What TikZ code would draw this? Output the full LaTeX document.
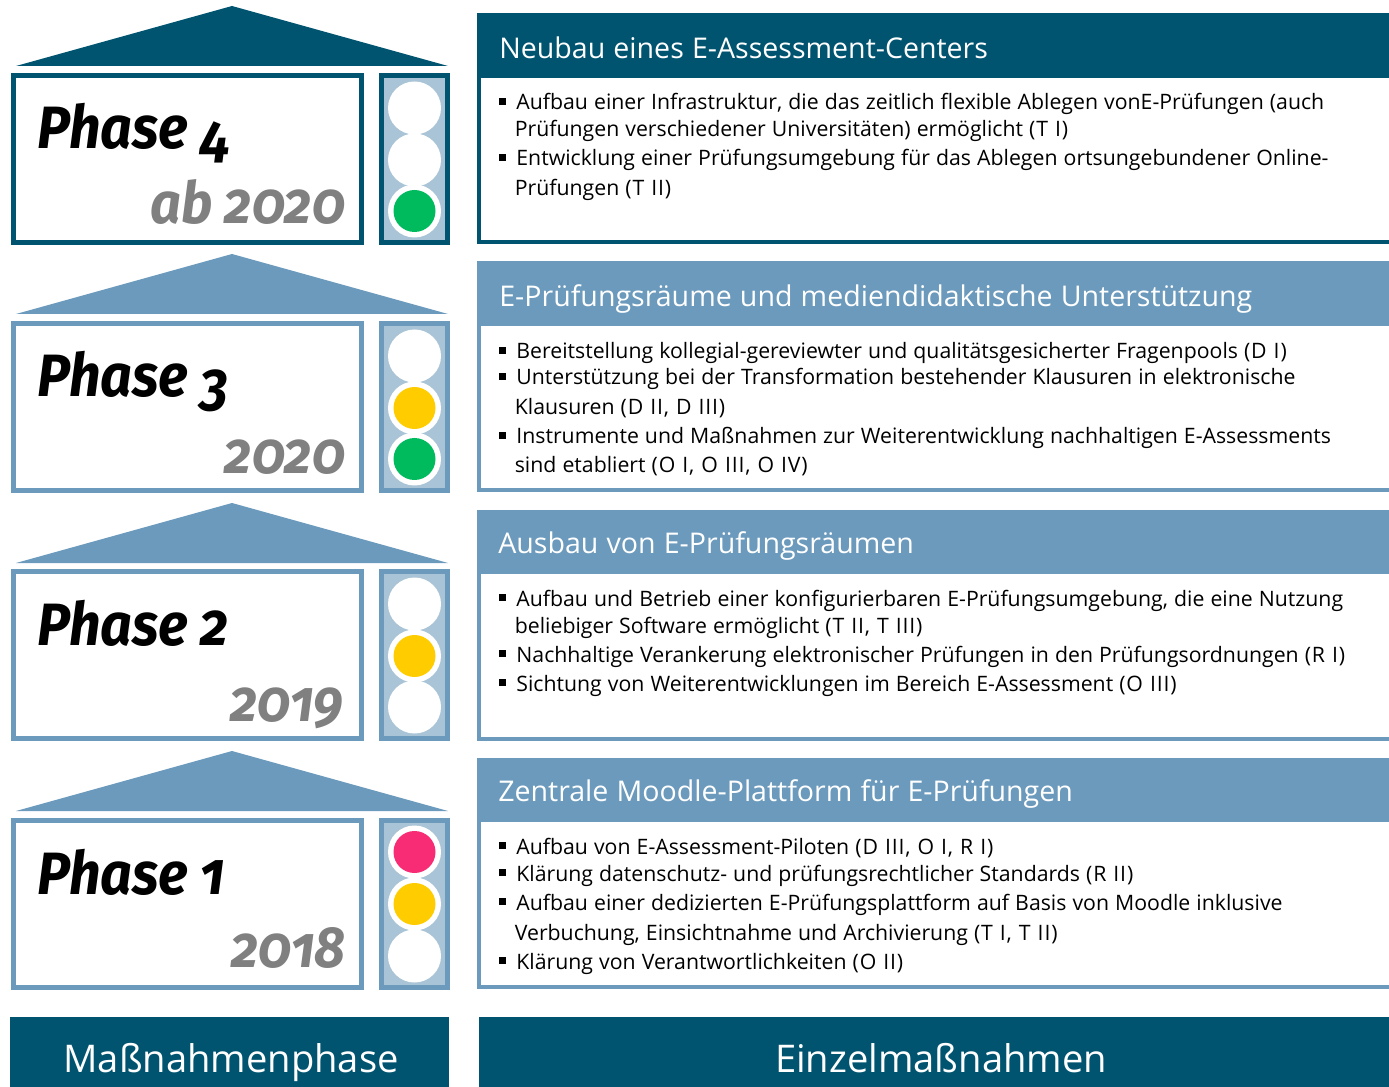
\documentclass[tikz,border=0pt]{standalone}
\usepackage{fontspec}
\setmainfont{Open Sans}[Numbers=OldStyle,WordSpace=1.1]
\newfontfamily\phasefont{Fira Sans}[Numbers=OldStyle,FakeStretch=0.93]
\usepackage{tikz}
\definecolor{darkblue}{HTML}{005470}
\definecolor{midblue}{HTML}{6B9ABC}
\definecolor{lightblue}{HTML}{A9C4D6}
\definecolor{lampred}{HTML}{F72C74}
\definecolor{lampyellow}{HTML}{FFCC00}
\definecolor{lampgreen}{HTML}{00BB5E}
\definecolor{yeargrey}{HTML}{808080}
\newcommand{\blt}{\makebox[9.7pt][l]{\rule[2.9pt]{3.5pt}{3.7pt}}}
\newcommand{\pn}[1]{{\addfontfeature{LetterSpace=4}#1}}

\begin{document}
\begin{tikzpicture}[x=0.02cm,y=0.02cm]
\tikzstyle{every node}+=[inner sep=0pt]
\tikzstyle{frame}=[line width=2.85pt,fill=white]
\tikzstyle{panel}=[line width=2.3pt,fill=white]
\tikzstyle{lamp}=[fill=white,draw=none]
\tikzstyle{phasetext}=[anchor=base west,font=\phasefont\fontsize{34}{40}\selectfont\bfseries\itshape]
\tikzstyle{yeartext}=[anchor=base east,text=yeargrey,font=\phasefont\fontsize{33}{38}\selectfont\bfseries\itshape]
\tikzstyle{headtext}=[anchor=base west,text=white,font=\fontsize{16.25}{20}\selectfont]
\tikzstyle{bodytext}=[anchor=base west,font=\fontsize{12.1}{15}\selectfont]
\tikzstyle{foottext}=[anchor=base,text=white,font=\fontsize{21.7}{25}\selectfont]
\useasboundingbox (0,0) rectangle (1389,-1087);
% phase 4
\fill [darkblue] (232,-6) -- (448,-66) -- (16,-66) -- cycle;
\draw [frame,draw=darkblue] (13.5,-75.5) rectangle (361.5,-242.5);
\draw [line width=2.85pt,draw=darkblue,fill=lightblue] (381.5,-75.5) rectangle (447.5,-242.5);
\fill [lamp] (414.5,-108) circle (26.5);
\fill [lamp] (414.5,-160) circle (26.5);
\fill [lamp] (414.5,-211) circle (26.5);
\fill [lampgreen] (414.5,-211) circle (21);
\node (phfour) at (37,-149) [phasetext] {Phase \raisebox{-4pt}{4}};
\node (yrfour) at (346,-224) [yeartext] {ab 2020};
\draw [panel,draw=darkblue] (479,-20) rectangle (1395,-242);
\fill [darkblue] (477,-13) rectangle (1389,-78);
\node (hdfour) at (499,-58.5) [headtext] {Neubau eines E-Assessment-Centers};
\node (lnfoura) at (499,-110) [bodytext] {\blt Aufbau einer Infrastruktur, die das zeitlich flexible Ablegen vonE-Prüfungen (auch};
\node (lnfourb) at (514.5,-137) [bodytext] {Prüfungen verschiedener Universitäten) ermöglicht \pn{(T I)}};
\node (lnfourc) at (499,-166) [bodytext] {\blt Entwicklung einer Prüfungsumgebung für das Ablegen ortsungebundener Online-};
\node (lnfourd) at (514.5,-196) [bodytext] {Prüfungen \pn{(T II)}};
% phase 3
\fill [midblue] (232,-254) -- (448,-314) -- (16,-314) -- cycle;
\draw [frame,draw=midblue] (13.5,-323.5) rectangle (361.5,-490.5);
\draw [line width=2.85pt,draw=midblue,fill=lightblue] (381.5,-323.5) rectangle (447.5,-490.5);
\fill [lamp] (414.5,-356) circle (26.5);
\fill [lamp] (414.5,-408) circle (26.5);
\fill [lamp] (414.5,-459) circle (26.5);
\fill [lampyellow] (414.5,-408) circle (21);
\fill [lampgreen] (414.5,-459) circle (21);
\node (phthree) at (37,-397) [phasetext] {Phase \raisebox{-4pt}{3}};
\node (yrthree) at (346,-473.5) [yeartext] {2020};
\draw [panel,draw=midblue] (479,-268) rectangle (1395,-490);
\fill [midblue] (477,-261) rectangle (1389,-326);
\node (hdthree) at (499,-306.5) [headtext] {E-Prüfungsräume und mediendidaktische Unterstützung};
\node (lnthreea) at (499,-359) [bodytext] {\blt Bereitstellung kollegial-gereviewter und qualitätsgesicherter Fragenpools \pn{(D I)}};
\node (lnthreeb) at (499,-385) [bodytext] {\blt Unterstützung bei der Transformation bestehender Klausuren in elektronische};
\node (lnthreec) at (514.5,-415) [bodytext] {Klausuren \pn{(D II, D III)}};
\node (lnthreed) at (499,-444) [bodytext] {\blt Instrumente und Maßnahmen zur Weiterentwicklung nachhaltigen E-Assessments};
\node (lnthreee) at (514.5,-473) [bodytext] {sind etabliert \pn{(O I, O III, O IV)}};
% phase 2
\fill [midblue] (232,-503) -- (448,-563) -- (16,-563) -- cycle;
\draw [frame,draw=midblue] (13.5,-571.5) rectangle (361.5,-738.5);
\draw [line width=2.85pt,draw=midblue,fill=lightblue] (381.5,-571.5) rectangle (447.5,-738.5);
\fill [lamp] (414.5,-604) circle (26.5);
\fill [lamp] (414.5,-656) circle (26.5);
\fill [lamp] (414.5,-707) circle (26.5);
\fill [lampyellow] (414.5,-656) circle (21);
\node (phtwo) at (37,-645) [phasetext] {Phase 2};
\node (yrtwo) at (344,-721) [yeartext] {2019};
\draw [panel,draw=midblue] (479,-517) rectangle (1395,-739);
\fill [midblue] (477,-510) rectangle (1389,-574);
\node (hdtwo) at (498,-553) [headtext] {Ausbau von E-Prüfungsräumen};
\node (lntwoa) at (499,-606) [bodytext] {\blt Aufbau und Betrieb einer konfigurierbaren E-Prüfungsumgebung, die eine Nutzung};
\node (lntwob) at (514.5,-633) [bodytext] {beliebiger Software ermöglicht \pn{(T II, T III)}};
\node (lntwoc) at (499,-662) [bodytext] {\blt Nachhaltige Verankerung elektronischer Prüfungen in den Prüfungsordnungen \pn{(R I)}};
\node (lntwod) at (499,-691) [bodytext] {\blt Sichtung von Weiterentwicklungen im Bereich E-Assessment \pn{(O III)}};
% phase 1
\fill [midblue] (232,-751) -- (448,-811) -- (16,-811) -- cycle;
\draw [frame,draw=midblue] (13.5,-820.5) rectangle (361.5,-987.5);
\draw [line width=2.85pt,draw=midblue,fill=lightblue] (381.5,-820.5) rectangle (447.5,-987.5);
\fill [lamp] (414.5,-852) circle (26.5);
\fill [lamp] (414.5,-904) circle (26.5);
\fill [lamp] (414.5,-956) circle (26.5);
\fill [lampred] (414.5,-852) circle (21);
\fill [lampyellow] (414.5,-904) circle (21);
\node (phone) at (37,-894) [phasetext] {Phase 1};
\node (yrone) at (346,-967) [yeartext] {2018};
\draw [panel,draw=midblue] (479,-765) rectangle (1395,-987);
\fill [midblue] (477,-758) rectangle (1389,-822);
\node (hdone) at (498,-801) [headtext] {Zentrale Moodle-Plattform für E-Prüfungen};
\node (lnonea) at (499,-854) [bodytext] {\blt Aufbau von E-Assessment-Piloten \pn{(D III, O I, R I)}};
\node (lnoneb) at (499,-881) [bodytext] {\blt Klärung datenschutz- und prüfungsrechtlicher Standards \pn{(R II)}};
\node (lnonec) at (499,-910) [bodytext] {\blt Aufbau einer dedizierten E-Prüfungsplattform auf Basis von Moodle inklusive};
\node (lnoned) at (514.5,-940) [bodytext] {Verbuchung, Einsichtnahme und Archivierung \pn{(T I, T II)}};
\node (lnonee) at (499,-969) [bodytext] {\blt Klärung von Verantwortlichkeiten \pn{(O II)}};
% footer
\fill [darkblue] (10,-1017) rectangle (449,-1087);
\fill [darkblue] (479,-1017) rectangle (1389,-1087);
\node (ftleft) at (231,-1072) [foottext] {Maßnahmenphase};
\node (ftright) at (941,-1072) [foottext] {Einzelmaßnahmen};
\end{tikzpicture}
\end{document}
